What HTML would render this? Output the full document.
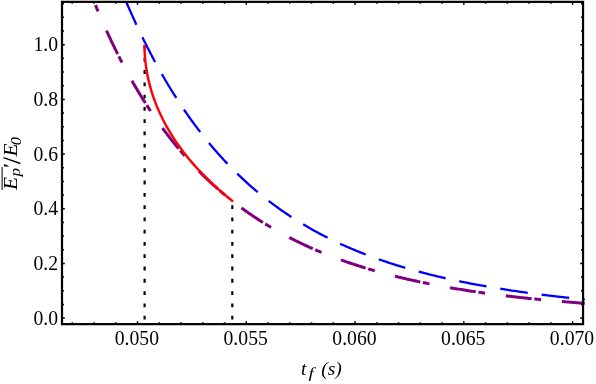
<!DOCTYPE html>
<html><head><meta charset="utf-8"><title>plot</title>
<style>
html,body{margin:0;padding:0;background:#fff;}
body{width:596px;height:384px;overflow:hidden;font-family:"Liberation Serif",serif;}
svg{display:block;}
text{font-family:"Liberation Serif",serif;fill:#000;}
</style></head><body>
<svg style="will-change:transform" width="596" height="384" viewBox="0 0 596 384">
<rect width="596" height="384" fill="#fff"/>
<defs><clipPath id="cl"><rect x="61" y="1" width="523.8" height="324"/></clipPath></defs>
<g clip-path="url(#cl)" fill="none" stroke-linecap="butt" stroke-linejoin="round">
<path d="M144.6 319.5 V45" stroke="#000" stroke-width="2.2" stroke-dasharray="3.8 8.48"/>
<path d="M232.3 319.5 V201.5" stroke="#000" stroke-width="2.2" stroke-dasharray="3.8 8.48"/>
<path d="M125.13 -0.69 L125.71 0.66 L126.28 2.00 L126.86 3.35 L127.44 4.69 L128.02 6.03 L128.61 7.37 L129.19 8.71 L129.78 10.05 L130.37 11.39 L130.97 12.73 L131.56 14.06 L132.16 15.40 L132.76 16.73 L133.37 18.07 L133.97 19.40 L134.58 20.73 L135.19 22.06 L135.81 23.39 L136.42 24.71 M142.42 37.28 L143.06 38.59 L143.71 39.90 L144.36 41.21 L145.01 42.52 L145.66 43.83 L146.32 45.14 L146.98 46.45 L147.64 47.75 L148.31 49.05 L148.98 50.35 L149.65 51.65 L150.32 52.95 L151.00 54.25 L151.68 55.55 L152.37 56.84 L153.05 58.13 L153.74 59.42 L154.43 60.71 L155.13 62.00 M161.89 74.16 L162.62 75.43 L163.35 76.70 L164.09 77.97 L164.82 79.23 L165.56 80.49 L166.31 81.75 L167.05 83.01 L167.80 84.27 L168.56 85.52 L169.31 86.77 L170.07 88.02 L170.84 89.27 L171.60 90.52 L172.38 91.76 L173.15 93.00 L173.93 94.24 L174.71 95.48 L175.49 96.72 L176.28 97.95 M183.95 109.56 L184.77 110.77 L185.60 111.98 L186.43 113.18 L187.27 114.38 L188.11 115.58 L188.95 116.78 L189.80 117.97 L190.65 119.16 L191.51 120.35 L192.37 121.53 L193.23 122.71 L194.09 123.89 L194.96 125.07 L195.84 126.24 L196.72 127.41 L197.60 128.58 L198.48 129.75 L199.37 130.91 L200.27 132.07 M208.96 142.94 L209.89 144.06 L210.83 145.19 L211.78 146.30 L212.72 147.42 L213.67 148.53 L214.63 149.64 L215.59 150.75 L216.55 151.85 L217.52 152.95 L218.49 154.04 L219.46 155.13 L220.44 156.22 L221.43 157.30 L222.41 158.38 L223.40 159.46 L224.40 160.53 L225.40 161.60 L226.40 162.66 L227.41 163.72 M237.20 173.62 L238.25 174.64 L239.31 175.65 L240.36 176.66 L241.43 177.67 L242.49 178.67 L243.56 179.67 L244.64 180.66 L245.72 181.65 L246.80 182.63 L247.89 183.61 L248.98 184.59 L250.07 185.56 L251.17 186.52 L252.27 187.49 L253.38 188.44 L254.49 189.40 L255.60 190.34 L256.72 191.29 L257.84 192.23 M268.71 200.92 L269.87 201.81 L271.04 202.70 L272.21 203.58 L273.38 204.45 L274.56 205.32 L275.74 206.19 L276.92 207.05 L278.11 207.90 L279.30 208.75 L280.49 209.60 L281.69 210.44 L282.89 211.27 L284.10 212.10 L285.31 212.93 L286.52 213.75 L287.73 214.56 L288.95 215.37 L290.17 216.18 L291.40 216.98 M303.21 224.34 L304.47 225.09 L305.73 225.83 L306.99 226.57 L308.26 227.30 L309.53 228.03 L310.80 228.75 L312.08 229.47 L313.35 230.18 L314.63 230.89 L315.92 231.59 L317.20 232.29 L318.49 232.98 L319.78 233.67 L321.08 234.36 L322.37 235.03 L323.67 235.71 L324.97 236.38 L326.28 237.04 L327.59 237.70 M340.13 243.72 L341.46 244.33 L342.80 244.93 L344.13 245.53 L345.47 246.13 L346.81 246.72 L348.15 247.30 L349.49 247.88 L350.84 248.46 L352.18 249.03 L353.53 249.60 L354.88 250.16 L356.24 250.72 L357.59 251.27 L358.95 251.82 L360.31 252.36 L361.67 252.90 L363.03 253.44 L364.39 253.97 L365.75 254.50 M378.82 259.30 L380.20 259.79 L381.58 260.27 L382.97 260.74 L384.35 261.21 L385.74 261.68 L387.13 262.14 L388.51 262.60 L389.90 263.06 L391.30 263.51 L392.69 263.96 L394.08 264.40 L395.48 264.84 L396.87 265.28 L398.27 265.71 L399.67 266.14 L401.07 266.57 L402.47 266.99 L403.87 267.41 L405.28 267.83 M418.67 271.60 L420.09 271.98 L421.50 272.36 L422.92 272.73 L424.33 273.10 L425.75 273.47 L427.17 273.83 L428.58 274.19 L430.00 274.55 L431.42 274.90 L432.84 275.25 L434.26 275.60 L435.69 275.95 L437.11 276.29 L438.53 276.63 L439.96 276.96 L441.38 277.30 L442.81 277.63 L444.23 277.95 L445.66 278.28 M459.26 281.23 L460.69 281.53 L462.13 281.82 L463.56 282.11 L465.00 282.40 L466.43 282.69 L467.87 282.97 L469.30 283.25 L470.74 283.53 L472.18 283.81 L473.61 284.08 L475.05 284.35 L476.49 284.62 L477.93 284.89 L479.37 285.15 L480.81 285.42 L482.25 285.68 L483.69 285.93 L485.13 286.19 L486.57 286.44 M500.29 288.75 L501.74 288.98 L503.18 289.21 L504.63 289.44 L506.08 289.67 L507.52 289.89 L508.97 290.11 L510.41 290.33 L511.86 290.55 L513.31 290.77 L514.76 290.98 L516.20 291.20 L517.65 291.41 L519.10 291.62 L520.55 291.82 L522.00 292.03 L523.44 292.23 L524.89 292.44 L526.34 292.64 L527.79 292.84 M541.59 294.65 L543.05 294.83 L544.50 295.01 L545.95 295.19 L547.40 295.37 L548.85 295.54 L550.31 295.72 L551.76 295.89 L553.21 296.06 L554.67 296.23 L556.12 296.40 L557.57 296.57 L559.03 296.74 L560.48 296.90 L561.93 297.07 L563.39 297.23 L564.84 297.39 L566.30 297.55 L567.75 297.71 L569.21 297.86 M583.05 299.30 L584.44 299.43 L585.82 299.57 L587.21 299.71 L588.59 299.84 L589.98 299.97" stroke="#0000ff" stroke-width="2.3"/>
<path d="M95.45 5.16 L95.97 6.42 L96.49 7.68 L97.01 8.93 L97.54 10.19 L98.07 11.44 M106.44 30.53 L107.04 31.85 L107.64 33.16 L108.25 34.47 L108.86 35.78 L109.47 37.09 L110.08 38.40 L110.70 39.70 L111.31 41.01 L111.94 42.31 L112.56 43.62 L113.19 44.92 L113.82 46.22 L114.45 47.52 L115.09 48.81 L115.72 50.11 L116.37 51.40 L117.01 52.70 L117.66 53.99 M118.87 56.40 L119.49 57.61 L120.11 58.82 L120.73 60.03 L121.36 61.24 L121.99 62.44 M131.96 80.75 L132.68 82.01 L133.40 83.26 L134.12 84.51 L134.84 85.76 L135.57 87.01 L136.30 88.25 L137.04 89.49 L137.78 90.73 L138.52 91.97 L139.27 93.21 L140.02 94.44 L140.77 95.68 L141.53 96.91 L142.29 98.14 L143.05 99.36 L143.82 100.59 L144.59 101.81 L145.36 103.03 M146.82 105.30 L147.56 106.44 L148.30 107.58 L149.05 108.72 L149.80 109.85 L150.55 110.99 M162.49 128.08 L163.35 129.24 L164.21 130.40 L165.07 131.56 L165.94 132.71 L166.81 133.86 L167.69 135.01 L168.57 136.15 L169.46 137.30 L170.35 138.43 L171.24 139.57 L172.13 140.70 L173.04 141.83 L173.94 142.96 L174.85 144.08 L175.76 145.20 L176.68 146.32 L177.60 147.43 L178.52 148.54 M180.26 150.60 L181.14 151.64 L182.03 152.67 L182.92 153.70 L183.81 154.73 L184.71 155.75 M198.90 171.02 L199.92 172.05 L200.94 173.07 L201.96 174.09 L202.99 175.11 L204.02 176.12 L205.05 177.12 L206.09 178.13 L207.13 179.13 L208.18 180.12 L209.23 181.11 L210.29 182.10 L211.35 183.08 L212.41 184.06 L213.48 185.03 L214.55 186.00 L215.63 186.96 L216.71 187.92 L217.79 188.88 M219.83 190.65 L220.86 191.54 L221.89 192.42 L222.93 193.30 L223.97 194.18 L225.01 195.05 M241.44 207.88 L242.61 208.74 L243.78 209.58 L244.95 210.43 L246.13 211.26 L247.31 212.10 L248.49 212.92 L249.68 213.75 L250.87 214.57 L252.06 215.38 L253.26 216.19 L254.46 216.99 L255.66 217.79 L256.87 218.58 L258.08 219.37 L259.29 220.15 L260.51 220.93 L261.73 221.71 L262.95 222.48 M265.24 223.90 L266.40 224.61 L267.57 225.32 L268.73 226.02 L269.90 226.72 L271.07 227.41 M289.31 237.50 L290.60 238.16 L291.89 238.81 L293.17 239.46 L294.47 240.11 L295.76 240.75 L297.06 241.39 L298.35 242.02 L299.66 242.65 L300.96 243.27 L302.26 243.89 L303.57 244.51 L304.88 245.12 L306.19 245.72 L307.51 246.32 L308.82 246.92 L310.14 247.51 L311.46 248.09 L312.78 248.68 M315.26 249.75 L316.51 250.29 L317.76 250.82 L319.01 251.35 L320.27 251.87 L321.53 252.39 M340.98 259.89 L342.34 260.38 L343.70 260.86 L345.06 261.34 L346.43 261.81 L347.79 262.29 L349.16 262.75 L350.53 263.22 L351.90 263.68 L353.27 264.13 L354.64 264.58 L356.01 265.03 L357.39 265.48 L358.76 265.92 L360.14 266.35 L361.52 266.79 L362.90 267.22 L364.28 267.64 L365.66 268.07 M368.24 268.84 L369.55 269.23 L370.85 269.62 L372.16 270.00 L373.46 270.38 L374.77 270.75 M394.91 276.14 L396.31 276.49 L397.71 276.84 L399.12 277.18 L400.52 277.52 L401.93 277.86 L403.33 278.19 L404.74 278.52 L406.14 278.85 L407.55 279.17 L408.96 279.50 L410.37 279.82 L411.78 280.13 L413.19 280.45 L414.60 280.76 L416.01 281.06 L417.42 281.37 L418.83 281.67 L420.25 281.97 M422.89 282.53 L424.22 282.80 L425.55 283.07 L426.89 283.34 L428.22 283.61 L429.55 283.88 M450.05 287.69 L451.47 287.94 L452.90 288.18 L454.32 288.42 L455.75 288.66 L457.17 288.90 L458.60 289.13 L460.02 289.37 L461.45 289.60 L462.87 289.83 L464.30 290.05 L465.73 290.28 L467.15 290.50 L468.58 290.72 L470.01 290.94 L471.44 291.16 L472.87 291.37 L474.29 291.59 L475.72 291.80 M478.40 292.19 L479.74 292.38 L481.09 292.57 L482.43 292.76 L483.78 292.95 L485.13 293.14 M505.81 295.82 L507.24 295.99 L508.67 296.16 L510.11 296.33 L511.54 296.50 L512.98 296.66 L514.41 296.83 L515.85 296.99 L517.28 297.15 L518.72 297.31 L520.15 297.47 L521.59 297.63 L523.03 297.79 L524.46 297.94 L525.90 298.10 L527.34 298.25 L528.77 298.40 L530.21 298.55 L531.65 298.70 M534.33 298.97 L535.68 299.10 L537.04 299.24 L538.39 299.37 L539.75 299.50 L541.10 299.64 M561.86 301.51 L563.30 301.63 L564.74 301.75 L566.18 301.87 L567.62 301.99 L569.06 302.10 L570.50 302.22 L571.94 302.33 L573.38 302.44 L574.82 302.56 L576.26 302.67 L577.70 302.78 L579.14 302.89 L580.58 303.00 L582.02 303.10 L583.46 303.21 L584.90 303.31 L586.35 303.42 L587.79 303.52" stroke="#800080" stroke-width="3.0"/>
<path d="M144.50 45.00 L144.51 46.98 L144.55 48.96 L144.62 50.94 L144.71 52.92 L144.82 54.91 L144.96 56.89 L145.13 58.87 L145.32 60.85 L145.54 62.83 L145.78 64.81 L146.05 66.79 L146.35 68.77 L146.67 70.75 L147.01 72.73 L147.39 74.72 L147.78 76.70 L148.21 78.68 L148.66 80.66 L149.13 82.64 L149.63 84.62 L150.16 86.60 L150.72 88.58 L151.30 90.56 L151.91 92.54 L152.54 94.53 L153.20 96.51 L153.89 98.49 L154.61 100.47 L155.35 102.45 L156.12 104.43 L156.92 106.41 L157.74 108.39 L158.60 110.37 L159.48 112.35 L160.39 114.34 L161.33 116.32 L162.30 118.30 L163.29 120.28 L164.32 122.26 L165.38 124.24 L166.46 126.22 L167.58 128.20 L168.72 130.18 L169.90 132.16 L171.11 134.15 L172.35 136.13 L173.62 138.11 L174.92 140.09 L176.25 142.07 L177.62 144.05 L179.02 146.03 L180.45 148.01 L181.91 149.99 L183.41 151.97 L184.95 153.96 L186.52 155.94 L188.12 157.92 L189.76 159.90 L191.43 161.88 L193.14 163.86 L194.88 165.84 L196.67 167.82 L198.49 169.80 L200.34 171.78 L202.24 173.77 L204.17 175.75 L206.15 177.73 L208.16 179.71 L210.21 181.69 L212.30 183.67 L214.44 185.65 L216.61 187.63 L218.83 189.61 L221.09 191.59 L223.39 193.58 L225.73 195.56 L228.12 197.54 L230.56 199.52 L233.04 201.50" stroke="#ff0000" stroke-width="2.4"/>
</g>
<g fill="none" stroke="#000">
<path d="M72.23 324.15 v-2.00 M72.23 1.85 v2.00 M93.99 324.15 v-2.00 M93.99 1.85 v2.00 M115.74 324.15 v-2.00 M115.74 1.85 v2.00 M137.50 324.15 v-2.80 M137.50 1.85 v2.80 M159.26 324.15 v-2.00 M159.26 1.85 v2.00 M181.01 324.15 v-2.00 M181.01 1.85 v2.00 M202.77 324.15 v-2.00 M202.77 1.85 v2.00 M224.52 324.15 v-2.00 M224.52 1.85 v2.00 M246.27 324.15 v-2.80 M246.27 1.85 v2.80 M268.03 324.15 v-2.00 M268.03 1.85 v2.00 M289.78 324.15 v-2.00 M289.78 1.85 v2.00 M311.54 324.15 v-2.00 M311.54 1.85 v2.00 M333.30 324.15 v-2.00 M333.30 1.85 v2.00 M355.05 324.15 v-2.80 M355.05 1.85 v2.80 M376.80 324.15 v-2.00 M376.80 1.85 v2.00 M398.56 324.15 v-2.00 M398.56 1.85 v2.00 M420.31 324.15 v-2.00 M420.31 1.85 v2.00 M442.07 324.15 v-2.00 M442.07 1.85 v2.00 M463.82 324.15 v-2.80 M463.82 1.85 v2.80 M485.58 324.15 v-2.00 M485.58 1.85 v2.00 M507.34 324.15 v-2.00 M507.34 1.85 v2.00 M529.09 324.15 v-2.00 M529.09 1.85 v2.00 M550.85 324.15 v-2.00 M550.85 1.85 v2.00 M572.60 324.15 v-2.80 M572.60 1.85 v2.80 M62.00 318.10 h2.80 M583.05 318.10 h-2.80 M62.00 304.43 h2.00 M583.05 304.43 h-2.00 M62.00 290.76 h2.00 M583.05 290.76 h-2.00 M62.00 277.09 h2.00 M583.05 277.09 h-2.00 M62.00 263.42 h2.80 M583.05 263.42 h-2.80 M62.00 249.75 h2.00 M583.05 249.75 h-2.00 M62.00 236.08 h2.00 M583.05 236.08 h-2.00 M62.00 222.41 h2.00 M583.05 222.41 h-2.00 M62.00 208.74 h2.80 M583.05 208.74 h-2.80 M62.00 195.07 h2.00 M583.05 195.07 h-2.00 M62.00 181.40 h2.00 M583.05 181.40 h-2.00 M62.00 167.73 h2.00 M583.05 167.73 h-2.00 M62.00 154.06 h2.80 M583.05 154.06 h-2.80 M62.00 140.39 h2.00 M583.05 140.39 h-2.00 M62.00 126.72 h2.00 M583.05 126.72 h-2.00 M62.00 113.05 h2.00 M583.05 113.05 h-2.00 M62.00 99.38 h2.80 M583.05 99.38 h-2.80 M62.00 85.71 h2.00 M583.05 85.71 h-2.00 M62.00 72.04 h2.00 M583.05 72.04 h-2.00 M62.00 58.37 h2.00 M583.05 58.37 h-2.00 M62.00 44.70 h2.80 M583.05 44.70 h-2.80 M62.00 31.03 h2.00 M583.05 31.03 h-2.00 M62.00 17.36 h2.00 M583.05 17.36 h-2.00 M62.00 3.69 h2.00 M583.05 3.69 h-2.00" stroke-width="1.5"/>
<rect x="62.00" y="1.85" width="521.05" height="322.30" stroke-width="2.2"/>
</g>
<g font-size="19.7px"><text transform="translate(58.0 324.70) scale(1 1.075)" text-anchor="end">0.0</text><text transform="translate(58.0 270.02) scale(1 1.075)" text-anchor="end">0.2</text><text transform="translate(58.0 215.34) scale(1 1.075)" text-anchor="end">0.4</text><text transform="translate(58.0 160.66) scale(1 1.075)" text-anchor="end">0.6</text><text transform="translate(58.0 105.98) scale(1 1.075)" text-anchor="end">0.8</text><text transform="translate(58.0 51.30) scale(1 1.075)" text-anchor="end">1.0</text><text transform="translate(136.90 345.4) scale(1 1.075)" text-anchor="middle">0.050</text><text transform="translate(245.67 345.4) scale(1 1.075)" text-anchor="middle">0.055</text><text transform="translate(354.45 345.4) scale(1 1.075)" text-anchor="middle">0.060</text><text transform="translate(463.22 345.4) scale(1 1.075)" text-anchor="middle">0.065</text><text transform="translate(572.00 345.4) scale(1 1.075)" text-anchor="middle">0.070</text></g>
<g font-size="19.5px" font-style="italic">
<text x="301" y="374.7">t</text><text transform="translate(308.6 378.2) scale(1.35 1)" font-size="14.3px">f</text><text x="321.2" y="374.6">(s)</text>
</g>
<g transform="translate(17.4 190.0) scale(1 1.1) rotate(-90)" font-size="19.4px" font-style="italic">
<text x="0" y="0">E</text><text x="12.3" y="3" font-size="15.5px">p</text><text x="19.2" y="0">&#8242;</text><path d="M24.1 3 L29.4 -13.9" stroke="#000" stroke-width="1.25" fill="none"/><text x="30.4" y="0">E</text><text x="40.8" y="3.2" font-size="15px">0</text>
<path d="M0 -15.3 H21" stroke="#000" stroke-width="1.0" fill="none"/>
</g>
</svg>
</body></html>
